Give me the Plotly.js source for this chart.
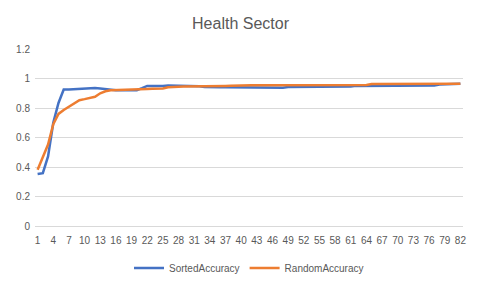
<!DOCTYPE html>
<html>
<head>
<meta charset="utf-8">
<script src="https://cdn.plot.ly/plotly-3.0.1.min.js"></script>
<style>html,body{margin:0;padding:0;background:#fff;}#chart{width:481px;height:289px;}</style>
</head>
<body>
<div id="chart"></div>
<script>
var categories = [];
for (var i = 1; i <= 82; i++) categories.push(i);

var sortedAccuracy = [
  0.352, 0.358, 0.472, 0.70, 0.834, 0.925, 0.926, 0.928, 0.932, 0.936,
  0.937, 0.935, 0.932, 0.927, 0.923, 0.921, 0.920, 0.920, 0.918, 0.921,
  0.935, 0.950, 0.950, 0.948, 0.950, 0.952, 0.952, 0.952, 0.952, 0.950,
  0.953, 0.948, 0.942, 0.940, 0.940, 0.940, 0.940, 0.940, 0.940, 0.940,
  0.940, 0.940, 0.940, 0.940, 0.940, 0.936, 0.935, 0.938, 0.942, 0.942,
  0.942, 0.942, 0.942, 0.942, 0.942, 0.942, 0.942, 0.942, 0.942, 0.943,
  0.945, 0.950, 0.950, 0.950, 0.950, 0.951, 0.953, 0.953, 0.953, 0.953,
  0.953, 0.953, 0.953, 0.953, 0.953, 0.953, 0.953, 0.960, 0.962, 0.963,
  0.964, 0.965
];

var randomAccuracy = [
  0.382, 0.463, 0.552, 0.69, 0.76, 0.787, 0.81, 0.835, 0.853, 0.86,
  0.867, 0.876, 0.90, 0.913, 0.92, 0.922, 0.924, 0.925, 0.925, 0.927,
  0.928, 0.929, 0.930, 0.930, 0.932, 0.940, 0.944, 0.944, 0.945, 0.945,
  0.946, 0.948, 0.950, 0.950, 0.950, 0.950, 0.950, 0.951, 0.953, 0.955,
  0.955, 0.955, 0.955, 0.955, 0.955, 0.955, 0.955, 0.955, 0.955, 0.955,
  0.955, 0.955, 0.955, 0.955, 0.955, 0.955, 0.955, 0.955, 0.955, 0.955,
  0.955, 0.955, 0.955, 0.956, 0.962, 0.962, 0.962, 0.962, 0.962, 0.962,
  0.962, 0.962, 0.962, 0.962, 0.962, 0.962, 0.962, 0.963, 0.964, 0.964,
  0.965, 0.965
];

var xTickVals = [];
for (var t = 1; t <= 82; t += 3) xTickVals.push(t);
var yTickVals = [0, 0.2, 0.4, 0.6, 0.8, 1, 1.2];
var yTickText = ['0', '0.2', '0.4', '0.6', '0.8', '1', '1.2'];

var font = 'Liberation Sans, Arial, sans-serif';
var traces = [
  {x: categories, y: sortedAccuracy, name: 'SortedAccuracy', type: 'scatter', mode: 'lines',
   line: {color: '#4472C4', width: 2.5}},
  {x: categories, y: randomAccuracy, name: 'RandomAccuracy', type: 'scatter', mode: 'lines',
   line: {color: '#ED7D31', width: 2.5}}
];

var layout = {
  width: 481, height: 289,
  margin: {l: 35, r: 18, t: 49, b: 63, autoexpand: false},
  paper_bgcolor: '#fff', plot_bgcolor: '#fff',
  font: {family: font, color: '#595959', size: 10},
  title: {text: 'Health Sector', font: {family: font, size: 16, color: '#595959'}, x: 0.5, xanchor: 'center', y: 0.92, yanchor: 'middle'},
  xaxis: {range: [0.5, 82.5], tickmode: 'array', tickvals: xTickVals, ticktext: xTickVals.map(String),
          showgrid: false, zeroline: false, showline: true, linecolor: '#d9d9d9', linewidth: 1,
          ticks: '', ticklabelstandoff: 5, tickfont: {size: 10, color: '#595959'}, fixedrange: true},
  yaxis: {range: [0, 1.2], tickmode: 'array', tickvals: yTickVals, ticktext: yTickText,
          showgrid: true, gridcolor: '#d9d9d9', gridwidth: 1, zeroline: false, showline: false,
          ticks: '', ticklabelstandoff: 4, tickfont: {size: 10, color: '#595959'}, fixedrange: true},
  showlegend: true,
  legend: {orientation: 'h', x: 0.5, xanchor: 'center', y: -0.237, yanchor: 'middle',
           font: {size: 10, color: '#595959'}, itemwidth: 30, traceorder: 'normal'}
};

Plotly.newPlot('chart', traces, layout, {displayModeBar: false, staticPlot: true});
</script>
</body>
</html>
